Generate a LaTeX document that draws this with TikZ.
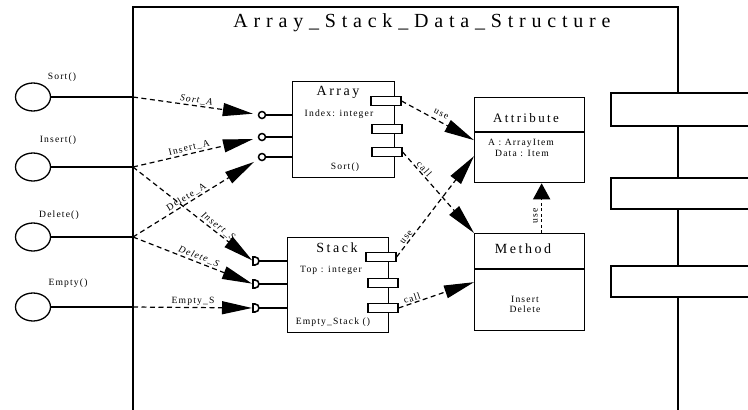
\documentclass[tikz,border=0pt]{standalone}
\usepackage{fontspec}
\setmainfont{Liberation Serif}[LetterSpace=12]
\usetikzlibrary{arrows.meta,shapes.geometric}

\begin{document}
\begin{tikzpicture}[x=1pt,y=-1pt,
  frame/.style={line width=1.3pt},
  box/.style={draw,line width=1.3pt,inner sep=0pt,anchor=north west},
  port/.style={draw,fill=white,line width=1.2pt,minimum width=30pt,minimum height=9pt,inner sep=0pt},
  iface/.style={draw,ellipse,line width=1.3pt,minimum width=35pt,minimum height=28pt,inner sep=0pt},
  lollipop/.style={draw,circle,line width=1.5pt,minimum size=7pt,inner sep=0pt},
  dep/.style={line width=1.2pt,dash pattern=on 5pt off 3.5pt,-{Triangle[length=30pt,width=13pt]}},
  shortdep/.style={line width=1.6pt,dash pattern=on 3pt off 2.5pt,-{Triangle[length=16pt,width=17pt]}},
  lbl/.style={font=\fontsize{9.6}{10}\selectfont,inner sep=1.2pt},
  small/.style={font=\fontsize{9.6}{11}\selectfont,inner sep=0pt},
  head/.style={font=\fontsize{14}{16}\selectfont\addfontfeatures{LetterSpace=18},inner sep=0pt}]

\useasboundingbox (0,0) rectangle (748,410);

% component frame (open at the bottom)
\draw[frame] (133,410) -- (133,7) -- (678,7) -- (678,410);
\node[font=\fontsize{20}{24}\selectfont\addfontfeatures{LetterSpace=29},inner sep=0pt] (title) at (422,23) {Array\_Stack\_Data\_Structure};

% ports on the right edge of the frame
\foreach \ya/\yb in {93/126,178/209,266/297}{
  \fill[white] (611,\ya) rectangle (760,\yb);
  \draw[frame] (760,\ya) -- (611,\ya) -- (611,\yb) -- (760,\yb);
}

% provided interfaces on the left
\node[iface] (c1) at (33,97) {};
\node[iface] (c2) at (33,167) {};
\node[iface] (c3) at (33,237) {};
\node[iface] (c4) at (33,307) {};
\node[small] at (62,77) {Sort()};
\node[small] at (58,140) {Insert()};
\node[small] at (59,215) {Delete()};
\node[small] at (68,283) {Empty()};
\coordinate (j1) at (133,97);
\coordinate (j2) at (133,167);
\coordinate (j3) at (133,237);
\coordinate (j4) at (133,307);
\foreach \i in {1,...,4}{\draw[frame] (c\i.east) -- (j\i);}

% Array component
\node[box,minimum width=102pt,minimum height=96pt] (array) at (292,81) {};
\node[head] at (338,92) {Array};
\node[small] at (339,114) {Index: integer};
\node[small] at (345,167) {Sort()};
\node[port] (a1) at (386,101) {};
\node[port] (a2) at (387,129) {};
\node[port] (a3) at (387,152) {};
\node[lollipop] (ai1) at (262,115) {};
\node[lollipop] (ai2) at (262,137) {};
\node[lollipop] (ai3) at (262,157) {};
\foreach \i in {1,2,3}{\draw[frame] (ai\i.east) -- (ai\i.east -| array.west);}

% Stack component
\node[box,minimum width=101pt,minimum height=95pt] (stack) at (287,237) {};
\node[head] at (337,248) {Stack};
\node[small] at (331,270) {Top : integer};
\node[small] at (333,322) {Empty\_Stack ()};
\node[port] (s1) at (381,257) {};
\node[port] (s2) at (383,283) {};
\node[port] (s3) at (383,308) {};
\coordinate (sd1) at (253,261);
\coordinate (sd2) at (253,284);
\coordinate (sd3) at (253,308);
\foreach \i in {1,2,3}{
  \draw[line width=1.6pt] (sd\i) ++(0,-4) -- ++(2,0) arc[start angle=-90,end angle=90,radius=4] -- ++(-2,0) -- cycle;
  \draw[frame] ([xshift=6pt]sd\i) -- (sd\i -| stack.west);
}

% Attribute class
\node[box,minimum width=110pt,minimum height=85pt] (attr) at (474,97) {};
\draw[frame] (474,132) -- (584,132);
\node[font=\fontsize{13}{15}\selectfont\addfontfeatures{LetterSpace=18},inner sep=0pt] at (526,118) {Attribute};
\node[small] at (521,143) {A : ArrayItem};
\node[small] at (522,153) {Data : Item};

% Method class
\node[box,minimum width=110pt,minimum height=97pt] (method) at (474,233) {};
\draw[frame] (474,269) -- (584,269);
\node[head] at (523,249) {Method};
\node[small] at (525,299) {Insert};
\node[small] at (525,309) {Delete};

% interface wiring
\draw[dep,shorten >=5pt] (j1) -- node[lbl,sloped,above,pos=.5]{\itshape Sort\_A} (ai1);
\draw[dep,shorten >=5pt] (j2) -- node[lbl,sloped,above,pos=.46]{Insert\_A} (ai2);
\draw[dep,shorten >=5pt] (j3) -- node[lbl,sloped,above,pos=.45]{Delete\_A} (ai3);
\draw[dep,shorten >=1pt] (j2) -- node[lbl,sloped,above,pos=.68]{\itshape Insert\_S} (sd1);
\draw[dep,shorten >=1pt] (j3) -- node[lbl,sloped,above,pos=.53]{\itshape Delete\_S} (sd2);
\draw[dep,shorten >=1pt] (j4) -- node[lbl,sloped,above,pos=.5]{Empty\_S} (sd3);

% internal dependencies
\draw[dep] (a1.east) -- node[lbl,sloped,above=3pt,pos=.5]{use} (attr.west);
\draw[dep] (a3.east) -- node[lbl,sloped,above,pos=.25]{call} (method.north west);
\draw[dep] (s1.east) -- node[lbl,sloped,above,pos=.17]{use} ([yshift=-16pt]attr.west);
\draw[dep] (s3.east) -- node[lbl,sloped,above,pos=.2]{call} (method.west);
\draw[shortdep] ([xshift=12pt]method.north) -- node[lbl,sloped,above=2pt,pos=.35]{use} ([xshift=12pt]attr.south);

\end{tikzpicture}
\end{document}
